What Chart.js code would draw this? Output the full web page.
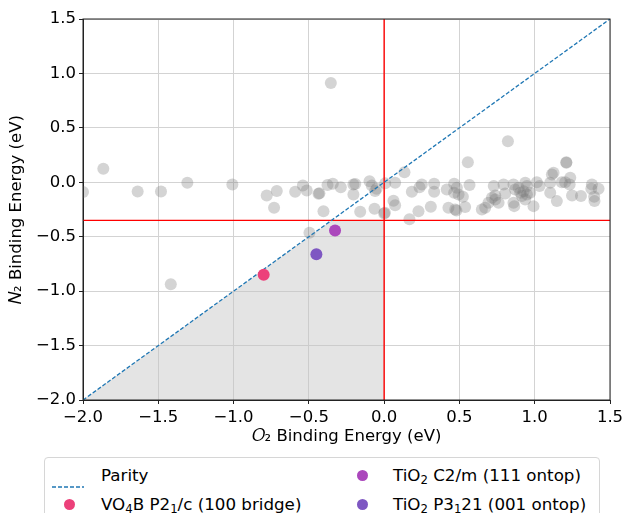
<!DOCTYPE html>
<html>
<head>
<meta charset="utf-8">
<script src="https://cdn.jsdelivr.net/npm/chart.js@4.4.0/dist/chart.umd.min.js"></script>
<style>
  body { margin: 0; width: 623px; height: 513px; overflow: hidden; background: #fff; position: relative; font-family: "DejaVu Sans", sans-serif; }
  #wrap { position: absolute; left: 0; top: 0; width: 640px; height: 447px; }
  #legend { position: absolute; left: 44px; top: 457px; width: 556px; height: 80px; border: 1px solid #d6d6d6; border-radius: 4px; box-sizing: border-box; font-size: 16.7px; color: #000; }
  .mk { position: absolute; }
  .txt { position: absolute; line-height: 22px; white-space: nowrap; }
  .txt sub { font-size: 70%; vertical-align: -3px; line-height: 0; }
</style>
</head>
<body>
<div id="wrap"><canvas id="chart"></canvas></div>
<div id="legend"></div>
<script>
// その他の材料 (グレーの点)
const otherO2 = [-2.0, -1.865, -1.637, -1.482, -1.307, -1.008, -1.417, -0.78, -0.713, -0.731, -0.591, -0.54, -0.514, -0.436, -0.43, -0.403, -0.376, -0.341, -0.288, -0.204, -0.204, -0.192, -0.159, -0.097, -0.082, -0.06, -0.05, -0.064, 0.0, 0.005, 0.007, -0.354, -0.496,
  0.073, 0.062, 0.073, 0.135, 0.168, 0.184, 0.228, 0.235, 0.25, 0.31, 0.332, 0.332, 0.416, 0.427, 0.465, 0.465, 0.483, 0.494, 0.472, 0.48, 0.523, 0.538, 0.567, 0.556,
  0.649, 0.671, 0.693, 0.716, 0.738, 0.728, 0.822, 0.793, 0.804, 0.738, 0.76, 0.859, 0.87, 0.859, 0.864, 0.893, 0.904, 0.915, 0.926, 0.948, 0.937, 0.937, 0.948, 0.97, 0.992,
  1.014, 1.032, 1.103, 1.114, 1.125, 1.103, 1.147, 1.18, 1.202, 1.21, 1.21, 1.236, 1.232, 1.248, 1.307, 1.38, 1.376, 1.395, 1.397, 1.424];
const otherN2 = [-0.09, 0.124, -0.084, -0.084, -0.005, -0.02, -0.937, -0.121, -0.08, -0.234, -0.087, -0.03, -0.075, -0.106, -0.1, -0.265, -0.026, -0.014, -0.045, -0.112, -0.02, -0.015, -0.27, 0.01, -0.03, -0.08, -0.06, -0.243, -0.286, -0.28, -0.01, 0.912, -0.463,
  -0.005, -0.17, -0.21, 0.093, -0.34, -0.087, -0.265, -0.045, -0.02, -0.225, -0.014, -0.087, -0.066, -0.234, -0.014, -0.096, -0.05, -0.112, -0.25, -0.26, -0.133, -0.228, -0.026, 0.184,
  -0.25, -0.234, -0.188, -0.142, -0.121, -0.035, 0.377, -0.02, -0.103, -0.158, -0.188, -0.02, -0.066, -0.188, -0.219, -0.05, -0.096, -0.127, -0.082, -0.035, -0.158, -0.005, -0.112, -0.096, -0.219,
  0.001, -0.035, -0.005, 0.072, 0.087, -0.096, -0.173, 0.0, 0.0, 0.184, 0.18, 0.041, -0.02, -0.121, -0.127, -0.02, -0.06, -0.133, -0.173, -0.06];

// ハイライトする材料
const highlightLabels = ['VO₄B P2₁/c (100 bridge)', 'TiO₂ C2/m (111 ontop)', 'TiO₂ P3₁21 (001 ontop)'];
const highlightHtml = ['VO<sub>4</sub>B P2<sub>1</sub>/c (100 bridge)', 'TiO<sub>2</sub> C2/m (111 ontop)', 'TiO<sub>2</sub> P3<sub>1</sub>21 (001 ontop)'];
const highlightO2 = [-0.80, -0.326, -0.45];
const highlightN2 = [-0.85, -0.443, -0.662];
const highlightColors = ['#ec407a', '#ab47bc', '#7e57c2'];

// 軸範囲・目盛り・しきい値
const axisMin = -2.0;
const axisMax = 1.5;
const tickValues = [-2.0, -1.5, -1.0, -0.5, 0.0, 0.5, 1.0, 1.5];
const o2Limit = 0.0;
const n2Limit = -0.35;

// 点の配列に整形
const toPoints = (xs, ys) => xs.map((x, i) => ({ x: x, y: ys[i] }));

// 有望領域 (パリティより下、両しきい値の内側)
const region = [
  { x: axisMin, y: axisMin },
  { x: n2Limit, y: n2Limit },
  { x: o2Limit, y: n2Limit },
  { x: o2Limit, y: axisMin }
];

const fmt = v => (v < 0 ? '\u2212' : '') + Math.abs(v).toFixed(1);

Chart.defaults.font.family = '"DejaVu Sans", sans-serif';
Chart.defaults.font.size = 16.5;
Chart.defaults.color = '#000';

const datasets = [];
// ハイライト点
highlightLabels.forEach((label, i) => {
  datasets.push({
    label: label,
    data: [{ x: highlightO2[i], y: highlightN2[i] }],
    backgroundColor: highlightColors[i],
    borderWidth: 0,
    pointRadius: 6,
    order: 0
  });
});
datasets.push({
  label: 'Parity',
  data: [{ x: axisMin, y: axisMin }, { x: axisMax, y: axisMax }],
  showLine: true,
  borderColor: '#1f77b4',
  borderWidth: 1.3,
  borderDash: [4, 2],
  pointRadius: 0,
  order: 1
});
datasets.push({
  label: 'n2 limit',
  data: [{ x: axisMin, y: n2Limit }, { x: axisMax, y: n2Limit }],
  showLine: true, borderColor: '#ff0000', borderWidth: 1.4, pointRadius: 0, order: 2
});
datasets.push({
  label: 'o2 limit',
  data: [{ x: o2Limit, y: axisMin }, { x: o2Limit, y: axisMax }],
  showLine: true, borderColor: '#ff0000', borderWidth: 1.4, pointRadius: 0, order: 2
});
datasets.push({
  label: 'others',
  data: toPoints(otherO2, otherN2),
  backgroundColor: 'rgba(120, 120, 120, 0.32)',
  borderWidth: 0,
  pointRadius: 6,
  clip: 0,
  order: 3
});
datasets.push({
  label: 'region',
  data: region,
  showLine: true,
  fill: 'shape',
  backgroundColor: 'rgba(195, 195, 195, 0.45)',
  borderWidth: 0,
  pointRadius: 0,
  order: 4
});

// 枠線 (上と右)
const framePlugin = {
  id: 'frame',
  afterDatasetsDraw(chart) {
    const { ctx, chartArea: a } = chart;
    ctx.save();
    ctx.strokeStyle = '#222';
    ctx.lineWidth = 1;
    ctx.strokeRect(a.left, a.top, a.right - a.left, a.bottom - a.top);
    ctx.restore();
  }
};

const axisCommon = {
  type: 'linear',
  min: axisMin,
  max: axisMax,
  afterBuildTicks: s => { s.ticks = tickValues.map(v => ({ value: v })); },
  grid: { color: '#d3d3d3', lineWidth: 1, tickColor: '#222', tickLength: 4 },
  border: { color: '#222', width: 1 }
};

new Chart(document.getElementById('chart'), {
  type: 'scatter',
  data: { datasets: datasets },
  options: {
    responsive: true,
    maintainAspectRatio: false,
    animation: false,
    layout: { padding: { top: 19, right: 30, left: 0, bottom: 0 } },
    plugins: { legend: { display: false }, tooltip: { enabled: false } },
    scales: {
      x: Object.assign({}, axisCommon, {
        ticks: { callback: fmt, padding: 4, maxRotation: 0 },
        title: { display: true, text: '𝑂₂ Binding Energy (eV)', padding: { top: 0, bottom: 0 } },
        afterFit: s => { s.height = 47; }
      }),
      y: Object.assign({}, axisCommon, {
        ticks: { callback: fmt, padding: 3 },
        title: { display: true, text: '𝑁₂ Binding Energy (eV)', padding: { top: 7, bottom: 0 } },
        afterFit: s => { s.width = 83; }
      })
    }
  },
  plugins: [framePlugin]
});

// 凡例 (2列、下側)
const legend = document.getElementById('legend');
const legendItems = [
  { html: 'Parity', color: '#1f77b4', line: true, col: 0, row: 0 },
  { html: highlightHtml[0], color: highlightColors[0], col: 0, row: 1 },
  { html: highlightHtml[1], color: highlightColors[1], col: 1, row: 0 },
  { html: highlightHtml[2], color: highlightColors[2], col: 1, row: 1 }
];
const colMarker = [24, 317];
const colText = [56, 348];
const rowCenter = [17, 46];
legendItems.forEach(it => {
  const mk = document.createElement('div');
  mk.className = 'mk';
  if (it.line) {
    mk.innerHTML = '<svg width="32" height="4"><line x1="0" y1="2" x2="32" y2="2" stroke="' + it.color + '" stroke-width="1.3" stroke-dasharray="4 2"/></svg>';
    mk.style.left = (colMarker[it.col] - 17) + 'px';
    mk.style.top = (rowCenter[it.row] - 2) + 'px';
    mk.style.height = '4px';
  } else {
    mk.style.width = '11px';
    mk.style.height = '11px';
    mk.style.borderRadius = '50%';
    mk.style.background = it.color;
    mk.style.left = (colMarker[it.col] - 5.5) + 'px';
    mk.style.top = (rowCenter[it.row] - 5.5) + 'px';
  }
  legend.appendChild(mk);
  const t = document.createElement('div');
  t.className = 'txt';
  t.innerHTML = it.html;
  t.style.left = colText[it.col] + 'px';
  t.style.top = (rowCenter[it.row] - 11) + 'px';
  legend.appendChild(t);
});
</script>
</body>
</html>
